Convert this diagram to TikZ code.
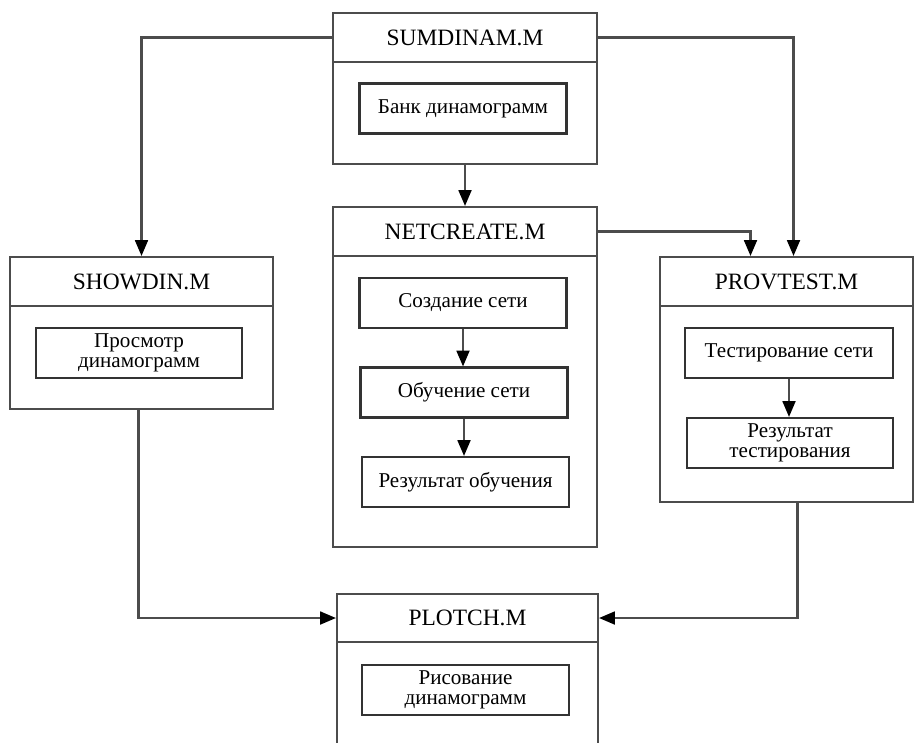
\documentclass[tikz,border=0pt]{standalone}
\usepackage{fontspec}
\setmainfont{Liberation Serif}
\usetikzlibrary{arrows.meta}
\newlength\pxl
\setlength\pxl{0.3mm}
\tikzset{
  modhead/.style={draw=black!70, line width=1.8pt, minimum width=#1\pxl, minimum height=49\pxl,
    inner sep=0pt, font=\fontsize{20}{22}\selectfont},
  modbody/.style 2 args={draw=black!70, line width=1.8pt, minimum width=#1\pxl, minimum height=#2\pxl,
    inner sep=0pt},
  stepbox/.style={draw=black!80, line width=1.8pt, minimum width=207\pxl, minimum height=50\pxl,
    inner sep=0pt, align=center, font=\fontsize{18}{17}\selectfont},
  link/.style={draw=black!70, line width=1.8pt, -{Triangle[length=13.5pt, width=11pt, color=black]}}
}

\begin{document}
\begin{tikzpicture}[x=\pxl, y=-\pxl]
    \useasboundingbox (0,0) rectangle (914,742);
    \clip (0,0) rectangle (914,742);

    % SUMDINAM
    \node[modhead=264] (sumhead) at (465,37.5) {SUMDINAM.M};
    \node[modbody={264}{102}] (sumbody) at (465,113) {};
    \node[stepbox] (bank) at (463,108.5) {Банк динамограмм};

    % NETCREATE
    \node[modhead=264] (nethead) at (465,231.5) {NETCREATE.M};
    \node[modbody={264}{291}] (netbody) at (465,401.5) {};
    \node[stepbox] (create) at (463,303) {Создание сети};
    \node[stepbox] (learn) at (464,392.5) {Обучение сети};
    \node[stepbox] (result) at (465.5,482) {Результат обучения};

    % SHOWDIN
    \node[modhead=263] (showhead) at (141.5,281.5) {SHOWDIN.M};
    \node[modbody={263}{103}] (showbody) at (141.5,357.5) {};
    \node[stepbox, minimum width=206\pxl] (view) at (139,353) {Просмотр\\динамограмм};

    % PROVTEST
    \node[modhead=253] (provhead) at (786.5,281.5) {PROVTEST.M};
    \node[modbody={253}{196}] (provbody) at (786.5,404) {};
    \node[stepbox, minimum width=208\pxl] (test) at (789,353) {Тестирование сети};
    \node[stepbox, minimum width=206\pxl] (testres) at (790,443) {Результат\\тестирования};

    % PLOTCH
    \node[modhead=261, minimum height=48\pxl] (plothead) at (467.5,618) {PLOTCH.M};
    \node[modbody={261}{138}] (plotbody) at (467.5,711) {};
    \node[stepbox] (plot) at (465.5,690) {Рисование\\динамограмм};

    \draw[link] (sumhead.west) -| (showhead.north);
    \draw[link] (sumhead.east) -| ([xshift=2.1mm]provhead.north);
    \draw[link] (sumbody.south) -- (nethead.north);
    \draw[link] (nethead.east) -| ([xshift=-10.8mm]provhead.north);
    \draw[link] ([xshift=-0.9mm]showbody.south) |- (plothead.west);
    \draw[link] ([xshift=3.3mm]provbody.south) |- (plothead.east);

    \draw[link] (create.south) -- (create.south |- learn.north);
    \draw[link] (learn.south) -- (learn.south |- result.north);
    \draw[link] (test.south) -- (test.south |- testres.north);
\end{tikzpicture}
\end{document}
